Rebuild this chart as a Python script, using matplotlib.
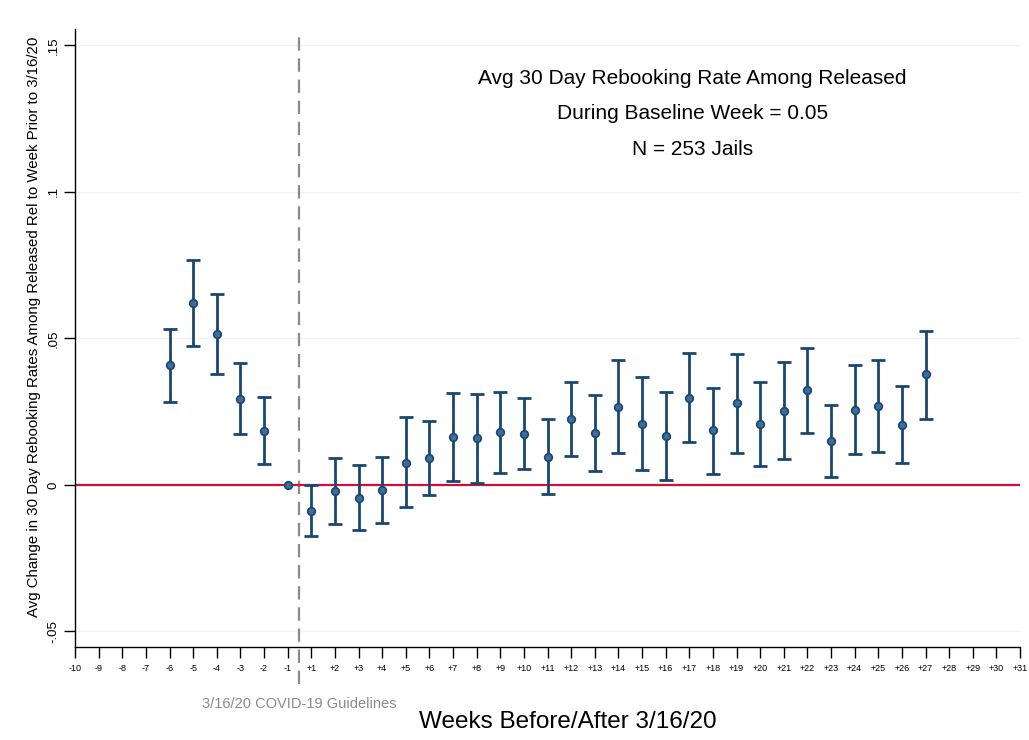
import matplotlib.pyplot as plt
import numpy as np

# ─────────────────────────────────────────────────────────────────────────────
# Data
# ─────────────────────────────────────────────────────────────────────────────

TICK_LABELS = [str(w) for w in range(-10, 0)] + [f"+{w}" for w in range(1, 32)]

WEEKS = ["-6", "-5", "-4", "-3", "-2", "-1",
         "+1", "+2", "+3", "+4", "+5", "+6", "+7", "+8", "+9", "+10",
         "+11", "+12", "+13", "+14", "+15", "+16", "+17", "+18", "+19", "+20",
         "+21", "+22", "+23", "+24", "+25", "+26", "+27"]

COEF = [0.0410, 0.0621, 0.0515, 0.0294, 0.0184, 0.0,
        -0.0088, -0.0020, -0.0043, -0.0017, 0.0076, 0.0092, 0.0164, 0.0160, 0.0180, 0.0175,
        0.0097, 0.0225, 0.0176, 0.0267, 0.0208, 0.0167, 0.0298, 0.0188, 0.0279, 0.0207,
        0.0253, 0.0323, 0.0150, 0.0257, 0.0270, 0.0206, 0.0377]

CI_HI = [0.0532, 0.0768, 0.0652, 0.0416, 0.0300, 0.0,
         0.0000, 0.0093, 0.0068, 0.0097, 0.0231, 0.0218, 0.0314, 0.0312, 0.0317, 0.0296,
         0.0226, 0.0352, 0.0306, 0.0428, 0.0370, 0.0317, 0.0451, 0.0332, 0.0446, 0.0352,
         0.0418, 0.0469, 0.0273, 0.0408, 0.0428, 0.0336, 0.0526]

CI_LO = [0.0283, 0.0474, 0.0379, 0.0174, 0.0072, 0.0,
         -0.0174, -0.0132, -0.0155, -0.0131, -0.0075, -0.0034, 0.0014, 0.0008, 0.0042, 0.0055,
         -0.0032, 0.0098, 0.0048, 0.0109, 0.0050, 0.0017, 0.0146, 0.0039, 0.0110, 0.0064,
         0.0089, 0.0177, 0.0028, 0.0106, 0.0114, 0.0075, 0.0225]

Y_TICKS = [-0.05, 0, 0.05, 0.1, 0.15]
Y_TICK_LABELS = ["-.05", "0", ".05", ".1", ".15"]

ANNOT = "Avg 30 Day Rebooking Rate Among Released\nDuring Baseline Week = 0.05\nN = 253 Jails"

# ─────────────────────────────────────────────────────────────────────────────
# Style
# ─────────────────────────────────────────────────────────────────────────────

plt.rcParams.update({
    "font.family": ["Liberation Sans", "DejaVu Sans"],
    "axes.spines.top": False,
    "axes.spines.right": False,
})

NAVY = "#1a476f"
DOT = "#3d6d99"
RED = "#d0103a"
GREY = "#8a8a8a"

# ─────────────────────────────────────────────────────────────────────────────
# Figure
# ─────────────────────────────────────────────────────────────────────────────

fig = plt.figure(figsize=(10.29, 7.40), dpi=100)
ax = fig.add_axes([0.0729, 0.1257, 0.9184, 0.8351])

pos = {lab: i for i, lab in enumerate(TICK_LABELS)}
x = np.array([pos[w] for w in WEEKS], dtype=float)
y = np.array(COEF)
lo = np.array(CI_LO)
hi = np.array(CI_HI)

# faint grid
for gy in Y_TICKS:
    ax.axhline(gy, color="#f1f1f1", lw=1.0, zorder=0)

# zero reference line
ax.axhline(0, color=RED, lw=1.6, zorder=2)

# event line between -1 and +1
ev = (pos["-1"] + pos["+1"]) / 2
ax.plot([ev, ev], [-0.068, 0.153], color=GREY, lw=1.6, ls=(0, (6, 3.5)),
        clip_on=False, zorder=1)

# confidence intervals (skip baseline week)
has_ci = hi - lo > 0
ax.errorbar(x[has_ci], y[has_ci],
            yerr=[y[has_ci] - lo[has_ci], hi[has_ci] - y[has_ci]],
            fmt="none", ecolor=NAVY, elinewidth=2.0, capsize=4.8, capthick=2.0, zorder=3)
ax.plot(x, y, "o", ms=5.5, mfc=DOT, mec=NAVY, mew=1.2, zorder=4)

# axes
ax.set_xlim(0, len(TICK_LABELS) - 1)
ax.set_ylim(-0.0553, 0.1556)
ax.set_xticks(range(len(TICK_LABELS)))
ax.set_xticklabels(TICK_LABELS, fontsize=6.5)
ax.set_yticks(Y_TICKS)
ax.set_yticklabels(Y_TICK_LABELS, fontsize=9.5, rotation=90, va="center")
ax.tick_params(axis="x", length=8, width=1.0, pad=4)
ax.tick_params(axis="y", length=8, width=1.0, pad=3)
for side in ("left", "bottom"):
    ax.spines[side].set_linewidth(1.0)

ax.set_ylabel("Avg Change in 30 Day Rebooking Rates Among Released Rel to Week Prior to 3/16/20",
              fontsize=10.8, labelpad=6)
ax.yaxis.set_label_coords(-0.036, 0.5176)
fig.text(0.552, 0.024, "Weeks Before/After 3/16/20", fontsize=17.5, ha="center", va="center")
ax.text(ev, -0.0746, "3/16/20 COVID-19 Guidelines", fontsize=10.5, color=GREY,
        ha="center", va="center", clip_on=False)

ax.text(0.673, 0.846, ANNOT, transform=fig.transFigure, fontsize=15,
        ha="center", va="center", linespacing=2.13)

fig.savefig("out.png", dpi=100)
